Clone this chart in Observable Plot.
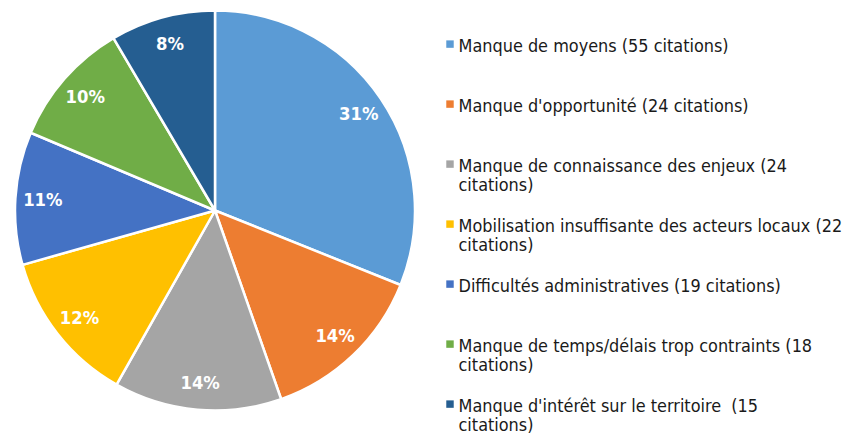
<!DOCTYPE html>
<html><head><meta charset="utf-8">
<script src="https://cdn.jsdelivr.net/npm/d3@7"></script>
<script src="https://cdn.jsdelivr.net/npm/@observablehq/plot@0.6"></script>
<style>
html,body{margin:0;padding:0;background:#fff;}
#chart svg{display:block;}
</style>
</head><body><div id="chart"></div>
<script>
// ---- data ----
const categories = [
  "Manque de moyens",
  "Manque d'opportunité",
  "Manque de connaissance des enjeux",
  "Mobilisation insuffisante des acteurs locaux",
  "Difficultés administratives",
  "Manque de temps/délais trop contraints",
  "Manque d'intérêt sur le territoire "
];
const citations = [55, 24, 24, 22, 19, 18, 15];
const colors = ["#5B9BD5", "#ED7D31", "#A5A5A5", "#FFC000", "#4472C4", "#70AD47", "#255E91"];

// ---- layout ----
const W = 850, H = 433;
const cx = 215, cy = 210.5, R = 200, labelR = 173;
const legendX = 449.5, legendTextX = 458, legendTop = 37.2, legendStep = 60;
const fontLegend = 17.9, fontPct = 18.3;

const total = d3.sum(citations);
const rows = categories.map((c, i) => ({category: c, value: citations[i], i}));
const pie = d3.pie().sort(null).value(d => d.value)(rows);
const mid = d => (d.startAngle + d.endAngle) / 2;

const legendRows = rows.map((d, i) => {
  let label = `${d.category} (${d.value} citations)`;
  if (label.length > 45) label = label.replace(/ citations\)$/, "\ncitations)");
  return {...d, label, top: legendTop + i * legendStep};
});

function slices(index, scales) {
  const x0 = scales.x(cx), y0 = scales.y(cy);
  const r = scales.x(cx + R) - scales.x(cx);
  const arc = d3.arc().innerRadius(0).outerRadius(r);
  const colorOf = scales.color || (c => colors[categories.indexOf(c)]);
  const g = d3.create("svg:g").attr("transform", `translate(${x0},${y0})`);
  g.selectAll("path").data(pie).join("path")
    .attr("d", arc)
    .attr("fill", d => colorOf(d.data.category))
    .attr("stroke", "white")
    .attr("stroke-width", 2.5)
    .attr("stroke-linejoin", "round");
  return g.node();
}

const chart = Plot.plot({
  width: W, height: H,
  margin: 0,
  x: {domain: [0, W], range: [0, W], axis: null},
  y: {domain: [0, H], range: [0, H], axis: null},
  color: {domain: categories, range: colors},
  style: {fontFamily: "'DejaVu Sans Condensed', 'Open Sans', sans-serif", background: "white", overflow: "visible"},
  marks: [
    slices,
    Plot.text(pie, {
      x: d => cx + Math.sin(mid(d)) * labelR,
      y: d => cy - Math.cos(mid(d)) * labelR,
      text: d => Math.round(100 * d.data.value / total) + "%",
      fill: "white", fontWeight: "bold", fontSize: fontPct
    }),
    Plot.dot(legendRows, {
      x: () => legendX, y: d => d.top + 6.4,
      symbol: "square", r: 4.2, fill: "category", stroke: null
    }),
    Plot.text(legendRows, {
      x: () => legendTextX, y: "top", text: "label",
      textAnchor: "start", lineAnchor: "top", lineHeight: 1.09,
      fontSize: fontLegend, fill: "#1a1a1a"
    })
  ]
});
document.getElementById("chart").append(chart);
</script>
</body></html>
